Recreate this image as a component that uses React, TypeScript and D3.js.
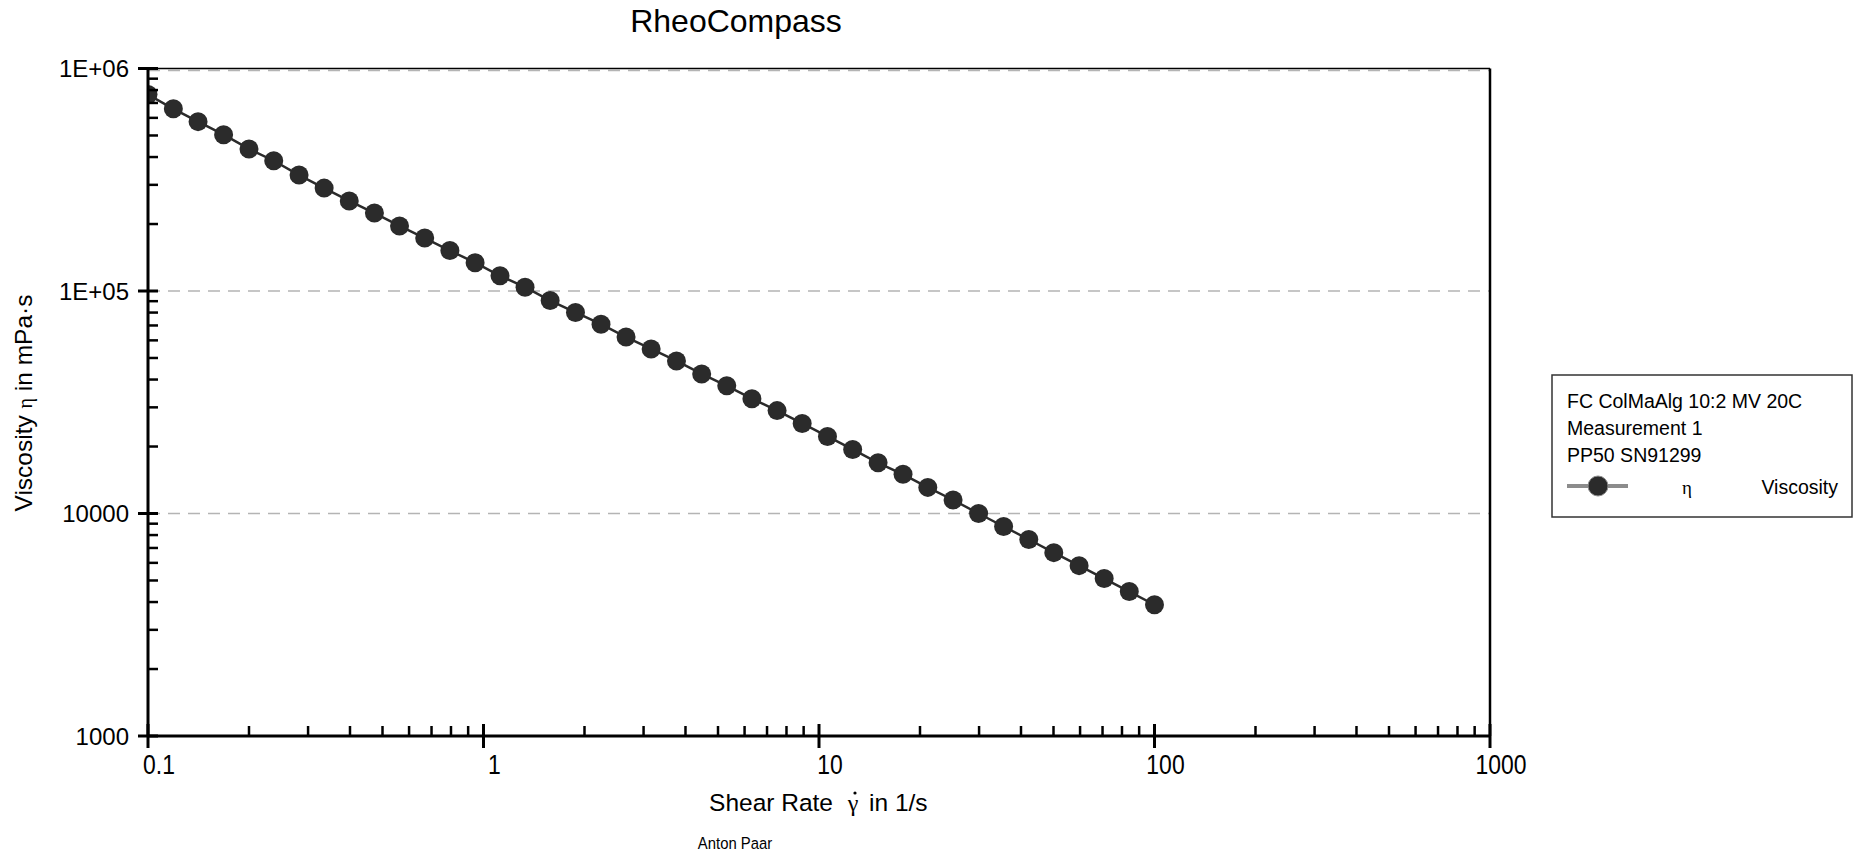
import { useMemo } from "react";
import * as d3 from "d3";

const WIDTH = 1856;
const HEIGHT = 852;
const PLOT_LEFT = 148;
const PLOT_RIGHT = 1490;
const PLOT_TOP = 68.5;
const PLOT_BOTTOM = 736;
const DOT_COLOR = "#2b2b2b";
const FONT = "Liberation Sans, Arial, sans-serif";
const SERIF = "Liberation Serif, serif";

// shear rate in 1/s
const shearRate = [
  0.1, 0.119, 0.141, 0.168, 0.2, 0.237, 0.282, 0.335, 0.398, 0.473, 0.562,
  0.668, 0.794, 0.944, 1.12, 1.33, 1.58, 1.88, 2.24, 2.66, 3.16, 3.76, 4.47,
  5.31, 6.31, 7.5, 8.91, 10.6, 12.6, 15, 17.8, 21.1, 25.1, 29.9, 35.5, 42.2,
  50.1, 59.6, 70.8, 84.1, 100,
];
// viscosity in mPa·s
const viscosity = [
  764000, 659000, 577000, 504000, 435000, 385000, 332000, 290000, 254000,
  224000, 196000, 173000, 152000, 134000, 117000, 104000, 90600, 80100, 70900,
  62100, 54900, 48500, 42400, 37500, 32800, 29000, 25400, 22200, 19400, 16900,
  15000, 13100, 11500, 10000, 8740, 7640, 6670, 5830, 5100, 4460, 3890,
];

const xMajorTicks = [0.1, 1, 10, 100, 1000];
const xTickLabels = ["0.1", "1", "10", "100", "1000"];
const yMajorTicks = [1e6, 1e5, 1e4, 1e3];
const yTickLabels = ["1E+06", "1E+05", "10000", "1000"];
const gridValues = [1e6, 1e5, 1e4];

const legendLines = ["FC ColMaAlg 10:2 MV 20C", "Measurement 1", "PP50 SN91299"];

function RheoChart() {
  const xScale = d3.scaleLog().domain([0.1, 1000]).range([PLOT_LEFT, PLOT_RIGHT]);
  const yScale = d3.scaleLog().domain([1000, 1e6]).range([PLOT_BOTTOM, PLOT_TOP]);

  const points = useMemo(
    () => shearRate.map((x, i) => [x, viscosity[i]] as [number, number]),
    []
  );
  const linePath = d3
    .line<[number, number]>()
    .x((d) => xScale(d[0]))
    .y((d) => yScale(d[1]))(points);

  const isMajor = (v: number) => Math.abs(Math.log10(v) - Math.round(Math.log10(v))) < 1e-6;
  const xMinor = xScale.ticks().filter((t) => !isMajor(t));
  const yMinor = yScale.ticks().filter((t) => !isMajor(t));

  return (
    <svg width={WIDTH} height={HEIGHT} style={{ position: "absolute", left: 0, top: 0, background: "#fff" }}>
      <defs>
        <clipPath id="plot-clip">
          <rect x={PLOT_LEFT} y={PLOT_TOP} width={PLOT_RIGHT - PLOT_LEFT} height={PLOT_BOTTOM - PLOT_TOP} />
        </clipPath>
      </defs>

      {/* title */}
      <text x={736} y={32} textAnchor="middle" fontFamily={FONT} fontSize={32}>
        RheoCompass
      </text>

      {/* dashed grid */}
      {gridValues.map((v) => (
        <line
          key={v}
          x1={PLOT_LEFT}
          x2={PLOT_RIGHT}
          y1={yScale(v) + (v === 1e6 ? 2 : 0)}
          y2={yScale(v) + (v === 1e6 ? 2 : 0)}
          stroke="#b4b4b4"
          strokeWidth={1.5}
          strokeDasharray="12 8"
        />
      ))}

      {/* frame */}
      <line x1={PLOT_LEFT} x2={PLOT_RIGHT} y1={PLOT_TOP} y2={PLOT_TOP} stroke="#000" strokeWidth={1.5} />
      <line x1={PLOT_RIGHT} x2={PLOT_RIGHT} y1={PLOT_TOP} y2={PLOT_BOTTOM} stroke="#000" strokeWidth={2.5} />

      {/* series */}
      <g clipPath="url(#plot-clip)">
        <path d={linePath ?? ""} fill="none" stroke={DOT_COLOR} strokeWidth={2.5} />
        {points.map((d, i) => (
          <circle key={i} cx={xScale(d[0])} cy={yScale(d[1])} r={9.5} fill={DOT_COLOR} />
        ))}
      </g>

      {/* y axis */}
      <line x1={PLOT_LEFT} x2={PLOT_LEFT} y1={PLOT_TOP - 1} y2={PLOT_BOTTOM + 1} stroke="#000" strokeWidth={3} />
      {yMinor.map((t) => (
        <line key={t} x1={PLOT_LEFT} x2={PLOT_LEFT + 10} y1={yScale(t)} y2={yScale(t)} stroke="#000" strokeWidth={2.5} />
      ))}
      {yMajorTicks.map((t, i) => (
        <g key={t}>
          <line x1={PLOT_LEFT - 10} x2={PLOT_LEFT + 10} y1={yScale(t)} y2={yScale(t)} stroke="#000" strokeWidth={3} />
          <text
            x={PLOT_LEFT - 19}
            y={yScale(t)}
            textAnchor="end"
            dominantBaseline="central"
            fontFamily={FONT}
            fontSize={24}
          >
            {yTickLabels[i]}
          </text>
        </g>
      ))}

      {/* x axis */}
      <line x1={PLOT_LEFT - 1} x2={PLOT_RIGHT + 1} y1={PLOT_BOTTOM} y2={PLOT_BOTTOM} stroke="#000" strokeWidth={3} />
      {xMinor.map((t) => (
        <line key={t} x1={xScale(t)} x2={xScale(t)} y1={PLOT_BOTTOM - 10} y2={PLOT_BOTTOM} stroke="#000" strokeWidth={2.5} />
      ))}
      {xMajorTicks.map((t, i) => (
        <g key={t}>
          <line x1={xScale(t)} x2={xScale(t)} y1={PLOT_BOTTOM - 12} y2={PLOT_BOTTOM + 12} stroke="#000" strokeWidth={3} />
          <text
            transform={`translate(${xScale(t) + 11}, ${PLOT_BOTTOM + 28}) scale(0.85, 1)`}
            textAnchor="middle"
            dominantBaseline="central"
            fontFamily={FONT}
            fontSize={27}
          >
            {xTickLabels[i]}
          </text>
        </g>
      ))}

      {/* axis titles */}
      <g fontFamily={FONT} fontSize={24.5}>
        <text x={833} y={811} textAnchor="end">
          Shear Rate
        </text>
        <text x={853} y={811} textAnchor="middle" fontFamily={SERIF} fontSize={24}>
          {"\u03B3"}
        </text>
        <circle cx={855} cy={793} r={1.6} fill="#000" />
        <text x={869} y={811} textAnchor="start">
          in 1/s
        </text>
      </g>
      <text
        transform={`translate(32, 403) rotate(-90)`}
        textAnchor="middle"
        fontFamily={FONT}
        fontSize={24.5}
      >
        Viscosity{" "}
        <tspan fontFamily={SERIF} fontSize={20}>
          {"\u03B7"}
        </tspan>{" "}
        in mPa·s
      </text>

      <text transform="translate(735, 849) scale(0.9, 1)" textAnchor="middle" fontFamily={FONT} fontSize={16.5}>
        Anton Paar
      </text>

      {/* legend */}
      <g>
        <rect x={1552} y={375} width={300} height={142} fill="#fff" stroke="#333" strokeWidth={1.5} />
        {legendLines.map((s, i) => (
          <text key={s} x={1567} y={408 + i * 27} fontFamily={FONT} fontSize={19.5}>
            {s}
          </text>
        ))}
        <line x1={1567} x2={1628} y1={486} y2={486} stroke="#8c8c8c" strokeWidth={4} />
        <circle cx={1598} cy={486} r={10} fill={DOT_COLOR} stroke="#8c8c8c" strokeWidth={1} />
        <text x={1687} y={494} textAnchor="middle" fontFamily={SERIF} fontSize={19}>
          {"\u03B7"}
        </text>
        <text x={1838} y={494} textAnchor="end" fontFamily={FONT} fontSize={19.5}>
          Viscosity
        </text>
      </g>
    </svg>
  );
}

export default function App() {
  return <RheoChart />;
}
